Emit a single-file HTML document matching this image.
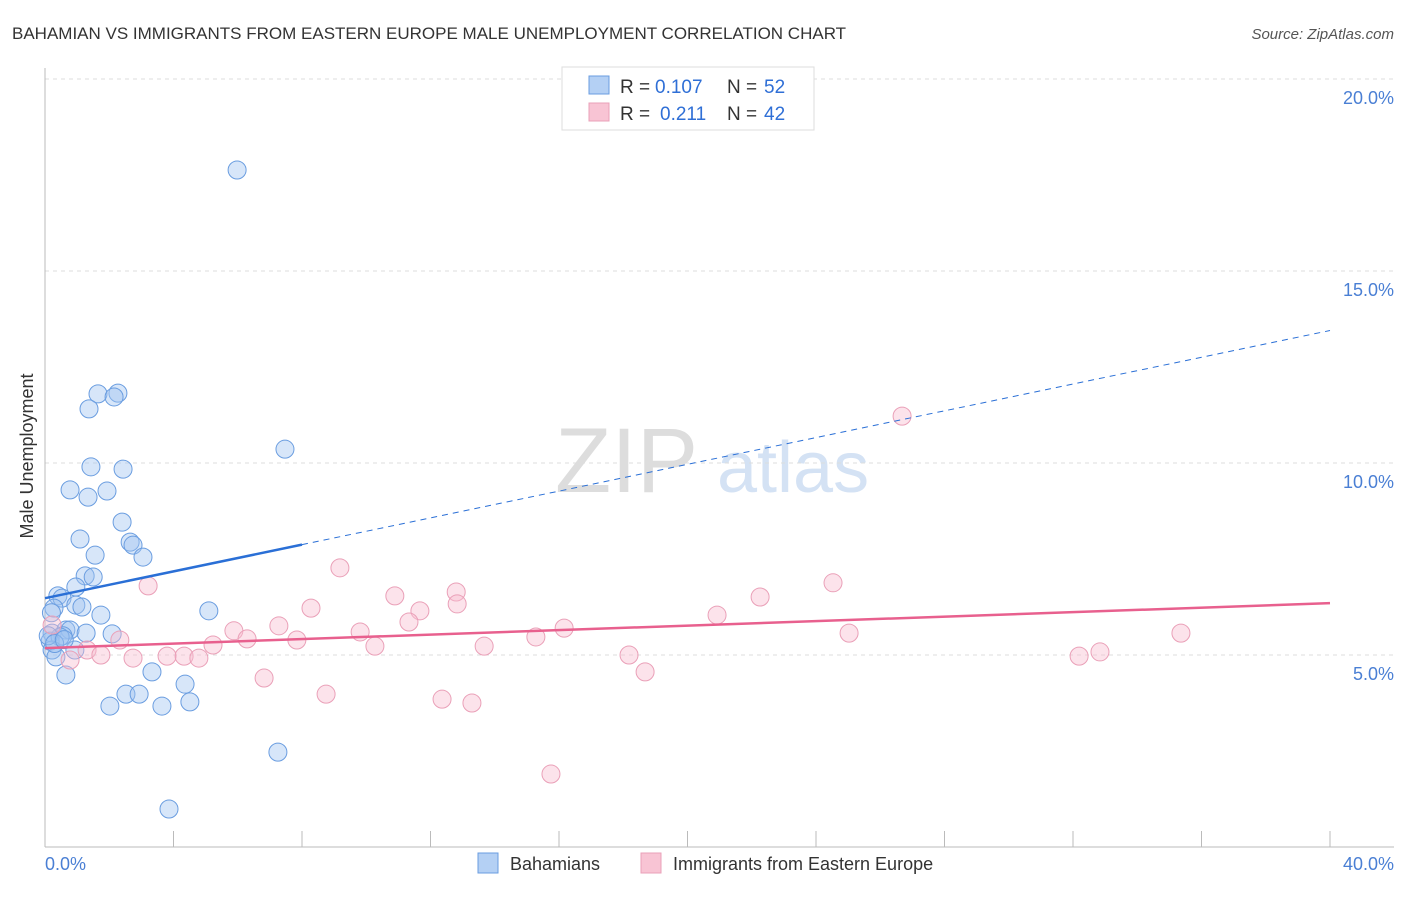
<!DOCTYPE html>
<html><head><meta charset="utf-8"><style>
body{margin:0;background:#fff;font-family:"Liberation Sans",sans-serif;}
svg text{font-family:"Liberation Sans",sans-serif;}
</style></head><body>
<svg id="chart" width="1406" height="892">
<text x="12" y="39" font-size="17" fill="#333">BAHAMIAN VS IMMIGRANTS FROM EASTERN EUROPE MALE UNEMPLOYMENT CORRELATION CHART</text>
<text x="1394" y="39" font-size="15" fill="#555" font-style="italic" text-anchor="end">Source: ZipAtlas.com</text>
<text x="555" y="492" font-size="92" fill="#ddd" font-family="Liberation Serif">ZIP</text>
<text x="717" y="492" font-size="72" fill="#d4e2f4">atlas</text>
<g id="grid"></g><g id="axes"></g><g id="pts"></g><g id="lines"></g>
<text transform="translate(33,456) rotate(-90)" font-size="18" fill="#333" text-anchor="middle">Male Unemployment</text>
<text x="45" y="870" font-size="18" fill="#4a7fd4">0.0%</text>
<text x="1394" y="870" font-size="18" fill="#4a7fd4" text-anchor="end">40.0%</text>
<g>
<rect x="562" y="67" width="252" height="63" fill="#fff" stroke="#ddd"/>
<rect x="589" y="76" width="20" height="18" fill="#b4d0f4" stroke="#6a9de0"/>
<rect x="589" y="103" width="20" height="18" fill="#f8c4d4" stroke="#eaa0b8"/>
<text x="620" y="93" font-size="19" fill="#333">R =</text>
<text x="655" y="93" font-size="19" fill="#2f6fd6">0.107</text>
<text x="727" y="93" font-size="19" fill="#333">N =</text>
<text x="764" y="93" font-size="19" fill="#2f6fd6">52</text>
<text x="620" y="120" font-size="19" fill="#333">R =</text>
<text x="660" y="120" font-size="19" fill="#2f6fd6">0.211</text>
<text x="727" y="120" font-size="19" fill="#333">N =</text>
<text x="764" y="120" font-size="19" fill="#2f6fd6">42</text>
</g>
<g>
<rect x="478" y="853" width="20" height="20" fill="#b4d0f4" stroke="#6a9de0"/>
<text x="510" y="870" font-size="18" fill="#333">Bahamians</text>
<rect x="641" y="853" width="20" height="20" fill="#f8c4d4" stroke="#eaa0b8"/>
<text x="673" y="870" font-size="18" fill="#333">Immigrants from Eastern Europe</text>
</g>
</svg>
<script>
const yTicks=[5,10,15,20];
const yTickLabels=["5.0%","10.0%","15.0%","20.0%"];
const blueX=[5.98,1.65,2.27,2.15,1.37,7.47,1.43,2.43,0.78,1.34,1.93,2.4,1.09,2.65,2.74,1.56,3.05,1.25,1.5,0.96,0.4,0.53,0.28,0.96,1.15,1.74,5.1,0.22,0.65,0.78,1.28,0.56,2.09,0.16,0.47,0.22,0.93,0.34,3.33,0.65,4.36,2.52,2.93,2.02,3.64,4.51,7.25,3.86,0.1,0.3,0.6,0.2];
const blueY=[17.63,11.8,11.82,11.72,11.41,10.36,9.9,9.84,9.3,9.11,9.27,8.46,8.02,7.94,7.86,7.6,7.55,7.06,7.03,6.77,6.54,6.48,6.22,6.3,6.25,6.04,6.15,5.57,5.65,5.65,5.57,5.5,5.55,5.36,5.47,5.13,5.13,4.95,4.56,4.48,4.24,3.98,3.98,3.67,3.67,3.78,2.47,0.99,5.5,5.3,5.4,6.1];
const pinkX=[3.21,9.18,10.89,12.8,12.83,11.67,8.28,11.33,7.28,5.88,6.29,9.81,7.84,16.16,15.28,13.67,10.27,5.23,2.33,1.31,1.74,2.74,3.8,4.33,4.79,0.78,6.82,8.75,12.36,13.29,15.75,18.18,18.68,20.92,22.26,24.53,25.03,26.68,32.19,32.84,35.36,0.22];
const pinkY=[6.8,7.27,6.54,6.64,6.33,6.15,6.22,5.86,5.76,5.63,5.42,5.6,5.39,5.7,5.47,5.23,5.23,5.26,5.39,5.13,5.0,4.92,4.97,4.97,4.92,4.87,4.4,3.98,3.85,3.75,1.9,5.0,4.56,6.04,6.51,6.88,5.57,11.22,4.97,5.08,5.57,5.78];
const blueTrend=[6.48,13.45];
const pinkTrend=[5.18,6.35];
const X=v=>45+v*32.125, Y=v=>847-v*38.4;
const NS="http://www.w3.org/2000/svg";
function mk(p,t,a){const e=document.createElementNS(NS,t);for(const k in a)e.setAttribute(k,a[k]);document.getElementById(p).appendChild(e);return e;}
yTicks.forEach((t,i)=>{
 const l=mk('grid','line',{x1:45,x2:1394,y1:Y(t),y2:Y(t),stroke:'#ddd','stroke-dasharray':'4,4'});
 
 
 const tx=mk('grid','text',{x:1394,y:Y(t)+25,'font-size':18,fill:'#4a7fd4','text-anchor':'end'});
 tx.textContent=yTickLabels[i];
 
 
});
const topGrid=mk('grid','line',{x1:45,x2:1394,y1:79,y2:79,stroke:'#ddd','stroke-dasharray':'4,4'});


const ya=mk('axes','line',{x1:45,x2:45,y1:68,y2:847,stroke:'#bbb'});


const xa=mk('axes','line',{x1:45,x2:1394,y1:847,y2:847,stroke:'#bbb'});


for(let i=1;i<=10;i++){const t=mk('axes','line',{x1:X(i*4),x2:X(i*4),y1:831,y2:847,stroke:'#bbb'});
 
 }
blueX.forEach((x,i)=>{const c=mk('pts','circle',{cx:X(x),cy:Y(blueY[i]),r:9,fill:'rgba(160,196,240,0.42)',stroke:'#6a9de0','stroke-width':1});
 
 });
pinkX.forEach((x,i)=>{const c=mk('pts','circle',{cx:X(x),cy:Y(pinkY[i]),r:9,fill:'rgba(248,188,208,0.42)',stroke:'#eaa0b8','stroke-width':1});
 
 });
const bAt=x=>blueTrend[0]+(blueTrend[1]-blueTrend[0])*x/40;
const b1=mk('lines','line',{x1:X(0),y1:Y(bAt(0)),x2:X(8),y2:Y(bAt(8)),stroke:'#2a6fd6','stroke-width':2.5});


const b2=mk('lines','line',{x1:X(8),y1:Y(bAt(8)),x2:X(40),y2:Y(bAt(40)),stroke:'#2a6fd6','stroke-width':1,'stroke-dasharray':'6,5'});


const p1=mk('lines','line',{x1:X(0),y1:Y(pinkTrend[0]),x2:X(40),y2:Y(pinkTrend[1]),stroke:'#e8608e','stroke-width':2.5});


</script>
</body></html>
